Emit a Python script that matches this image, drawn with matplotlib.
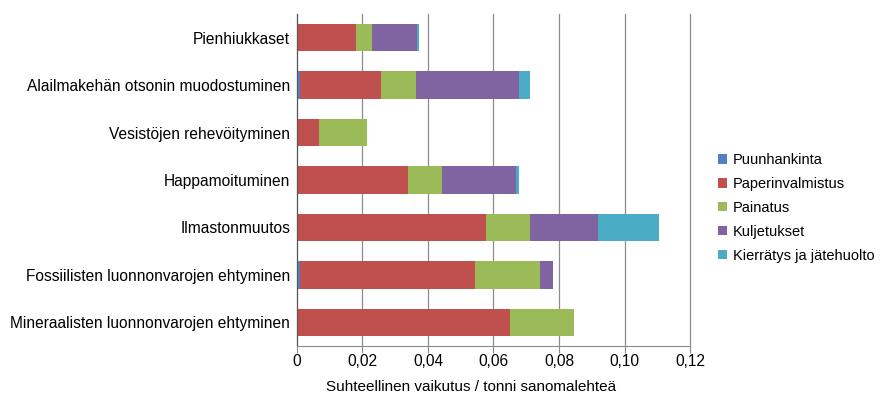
import matplotlib.pyplot as plt
import numpy as np

plt.rcParams['font.family'] = ['Liberation Sans', 'DejaVu Sans']

categories = ['Pienhiukkaset',
              'Alailmakehän otsonin muodostuminen',
              'Vesistöjen rehevöityminen',
              'Happamoituminen',
              'Ilmastonmuutos',
              'Fossiilisten luonnonvarojen ehtyminen',
              'Mineraalisten luonnonvarojen ehtyminen']

puunhankinta = [0.0003, 0.0008, 0.0, 0.0003, 0.0003, 0.0008, 0.0001]
paperinvalmistus = [0.0178, 0.0247, 0.0068, 0.0335, 0.0574, 0.0536, 0.0648]
painatus = [0.0048, 0.0107, 0.0145, 0.0104, 0.0135, 0.0198, 0.0197]
kuljetukset = [0.0137, 0.0317, 0.0, 0.0227, 0.0208, 0.0041, 0.0]
kierratys = [0.0006, 0.0031, 0.0, 0.0010, 0.0184, 0.0, 0.0]

series = [('Puunhankinta', puunhankinta, '#4F81BD'),
          ('Paperinvalmistus', paperinvalmistus, '#C0504D'),
          ('Painatus', painatus, '#9BBB59'),
          ('Kuljetukset', kuljetukset, '#8064A2'),
          ('Kierrätys ja jätehuolto', kierratys, '#4BACC6')]

fig = plt.figure(figsize=(8.87, 3.95), dpi=100)
ax = fig.add_axes([297 / 887, 1 - 346 / 395, 393 / 887, 332 / 395])

y = np.arange(len(categories))
left = np.zeros(len(categories))
for name, vals, col in series:
    ax.barh(y, vals, left=left, height=0.58, color=col, label=name)
    left += np.array(vals)

ax.set_ylim(len(categories) - 0.5, -0.5)
ax.set_xlim(0, 0.12)
ax.set_yticks(y)
ax.set_yticklabels(categories, fontsize=11.2)
ax.set_xticks(np.arange(0, 0.121, 0.02))
ax.xaxis.set_major_formatter(plt.FuncFormatter(lambda v, p: '0' if v == 0 else ('%.2f' % v).replace('.', ',')))
ax.tick_params(axis='x', labelsize=11.2)

ax.grid(axis='x', color='#8c8c8c', linewidth=0.9)
for gl in ax.get_xgridlines():
    gl.set_clip_on(False)
ax.set_axisbelow(True)
for s in ['top', 'right']:
    ax.spines[s].set_visible(False)
ax.spines['left'].set_color('#555555')
ax.spines['bottom'].set_color('#8c8c8c')
ax.tick_params(axis='y', length=0, pad=5)
ax.tick_params(axis='x', length=5, color='#8c8c8c', pad=1)

ax.set_xlabel('Suhteellinen vaikutus / tonni sanomalehteä', fontsize=11, labelpad=7)
ax.xaxis.set_label_coords(0.443, -0.103)

fig.legend(loc='upper left', bbox_to_anchor=(705 / 887, 1 - 140 / 395), frameon=False,
           fontsize=10.5, handlelength=0.6, handleheight=0.6, handletextpad=0.4,
           labelspacing=0.68)

fig.savefig('out.png', dpi=100)
